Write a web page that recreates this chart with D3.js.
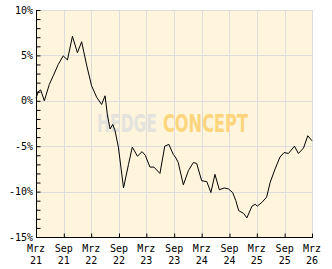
<!DOCTYPE html>
<html>
<head>
<meta charset="utf-8">
<script src="https://cdn.jsdelivr.net/npm/d3@7"></script>
<style>
  body { margin: 0; background: #fff; }
  text { font-family: "DejaVu Sans Mono", monospace; font-size: 10px; fill: #000; }
</style>
</head>
<body>
<div id="chart"></div>
<script>
// performance values (percent)
var dates = ["2021-03-01","2021-03-16","2021-04-01","2021-04-25","2021-05-28","2021-06-23","2021-07-26","2021-08-28",
  "2021-09-25","2021-10-28","2021-11-30","2021-12-28","2022-01-31","2022-03-04","2022-04-06","2022-05-09",
  "2022-06-01","2022-06-16","2022-07-04","2022-07-22","2022-08-06","2022-08-28","2022-10-01","2022-11-03",
  "2022-11-28","2023-01-01","2023-02-01","2023-02-22","2023-03-25","2023-04-20","2023-05-30","2023-07-01",
  "2023-07-28","2023-08-26","2023-09-13","2023-09-28","2023-11-01","2023-12-04","2024-01-06","2024-01-28",
  "2024-03-01","2024-04-04","2024-05-01","2024-05-28","2024-06-26","2024-07-28","2024-08-25","2024-09-22",
  "2024-10-13","2024-11-01","2024-12-04","2024-12-25","2025-01-28","2025-02-18","2025-03-04","2025-04-03",
  "2025-05-05","2025-05-28","2025-06-30","2025-08-01","2025-08-28","2025-09-26","2025-11-05","2025-12-01",
  "2026-01-04","2026-02-01","2026-03-01"];
var values = [0.3, 1.0, 1.2, 0.0, 1.8, 2.75, 4.0, 4.95,
  4.5, 7.1, 5.3, 6.5, 3.85, 1.65, 0.4, -0.4,
  0.55, -1.5, -3.1, -2.6, -3.3, -5.1, -9.6, -7.0,
  -5.1, -6.1, -5.6, -6.0, -7.3, -7.3, -8.0, -5.0,
  -4.8, -5.9, -6.3, -6.8, -9.25, -7.7, -6.8, -6.9,
  -8.8, -8.9, -10.1, -8.1, -9.8, -9.6, -9.7, -10.1,
  -11.0, -12.1, -12.4, -12.9, -11.6, -11.4, -11.6, -11.2,
  -10.6, -9.0, -7.5, -6.2, -5.7, -5.8, -5.0, -5.8,
  -5.2, -3.85, -4.4];

var tickDates = ["2021-03-01","2021-09-01","2022-03-01","2022-09-01","2023-03-01","2023-09-01",
  "2024-03-01","2024-09-01","2025-03-01","2025-09-01","2026-03-01"];
var tickMonths = ["Mrz","Sep","Mrz","Sep","Mrz","Sep","Mrz","Sep","Mrz","Sep","Mrz"];
var tickYears = ["21","21","22","22","23","23","24","24","25","25","26"];
var yTicks = [-15, -10, -5, 0, 5, 10];

var W = 332, H = 269;
var margin = {top: 10, right: 20, bottom: 32, left: 36};
var width = W - margin.left - margin.right,
    height = H - margin.top - margin.bottom;

var parse = d3.timeParse("%Y-%m-%d");
var data = dates.map(function(d, i) { return {date: parse(d), value: values[i]}; });

var svg = d3.select("#chart").append("svg")
  .attr("width", W).attr("height", H)
  .append("g")
  .attr("transform", "translate(" + margin.left + "," + margin.top + ")");

var x = d3.scaleTime()
  .domain([parse(tickDates[0]), parse(tickDates[tickDates.length - 1])])
  .range([0, width]);
var y = d3.scaleLinear().domain([-15, 10]).range([height, 0]);

// plot background
svg.append("rect").attr("width", width).attr("height", height).attr("fill", "#fff5dd");

// grid
svg.append("g").selectAll("line").data(yTicks).enter().append("line")
  .attr("x1", 0).attr("x2", width)
  .attr("y1", function(d) { return Math.round(y(d)) + 0.5; })
  .attr("y2", function(d) { return Math.round(y(d)) + 0.5; })
  .attr("stroke", "#dcdcdc");
svg.append("g").selectAll("line").data(tickDates).enter().append("line")
  .attr("x1", function(d) { return Math.round(x(parse(d))) + 0.5; })
  .attr("x2", function(d) { return Math.round(x(parse(d))) + 0.5; })
  .attr("y1", 0).attr("y2", height)
  .attr("stroke", "#dcdcdc");

// watermark: squeeze each word horizontally to its width in the picture
function watermark(word, left, w, color) {
  var t = svg.append("text")
    .style("font-family", "'DejaVu Sans Condensed', 'DejaVu Sans', sans-serif")
    .style("font-weight", "bold").style("font-size", "24px")
    .style("fill", color)
    .text(word);
  var k = w / t.node().getComputedTextLength();
  t.attr("transform", "translate(" + left + ",122) scale(" + k + ",1)");
}
watermark("HEDGE", 61, 60, "#e3e2dc");
watermark("CONCEPT", 127, 85, "#fdd57c");

// performance line
var line = d3.line()
  .x(function(d) { return x(d.date); })
  .y(function(d) { return y(d.value); });
svg.append("path").datum(data)
  .attr("d", line)
  .attr("fill", "none")
  .attr("stroke", "#000")
  .attr("stroke-width", 1);

// y axis: minor ticks every 1% pointing inward, labels every 5%
var yAxis = svg.append("g").attr("transform", "translate(0.5,0)")
  .call(d3.axisLeft(y).tickValues(d3.range(-15, 11, 1)).tickSize(-4).tickFormat(""));
yAxis.select(".domain").remove();
yAxis.selectAll("line").attr("stroke", "#000");
svg.append("g").selectAll("text").data(yTicks).enter().append("text")
  .attr("x", -3).attr("y", function(d) { return y(d) + 3.5; })
  .attr("text-anchor", "end")
  .text(function(d) { return d + "%"; });

// x axis ticks pointing up
var xAxis = svg.append("g").attr("transform", "translate(0," + (height + 0.5) + ")")
  .call(d3.axisBottom(x).tickValues(tickDates.map(parse)).tickSize(-4).tickFormat(""));
xAxis.select(".domain").remove();
xAxis.selectAll("line").attr("stroke", "#000");
var xl = svg.append("g").selectAll("text").data(tickDates).enter().append("text")
  .attr("text-anchor", "middle")
  .attr("transform", function(d) { return "translate(" + x(parse(d)) + "," + (height + 15) + ")"; });
xl.append("tspan").attr("x", 0).text(function(d, i) { return tickMonths[i]; });
xl.append("tspan").attr("x", 0).attr("dy", 12).text(function(d, i) { return tickYears[i]; });

// axis lines: black left and bottom
svg.append("line").attr("x1", 0.5).attr("x2", 0.5).attr("y1", 0).attr("y2", height + 1).attr("stroke", "#000");
svg.append("line").attr("x1", 0).attr("x2", width + 1).attr("y1", height + 0.5).attr("y2", height + 0.5).attr("stroke", "#000");
</script>
</body>
</html>
